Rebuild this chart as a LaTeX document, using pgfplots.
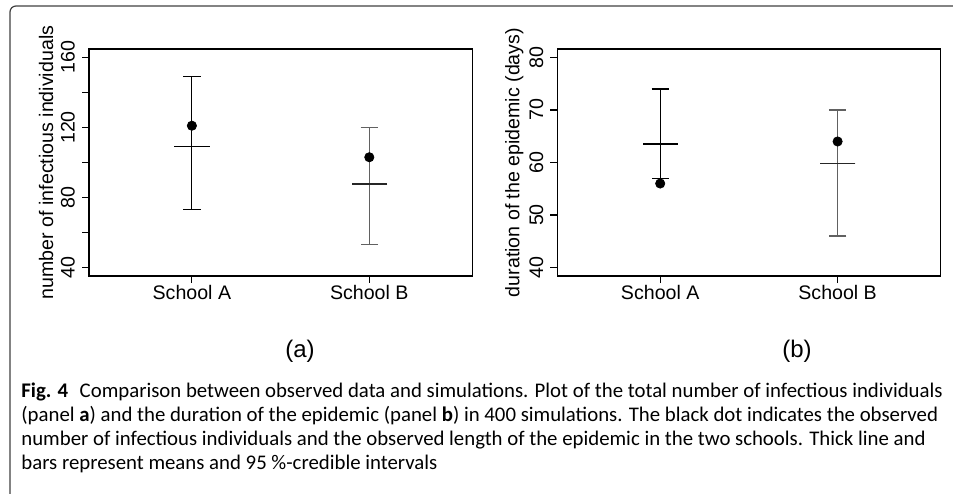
\documentclass[border=0pt]{standalone}
\usepackage{fontspec}
\setmainfont{Liberation Sans}
\newfontfamily\capfont{Carlito}
\usepackage{pgfplots}
\pgfplotsset{compat=1.18}
\pgfplotsset{
 panel/.style={scale only axis, width=191.6pt, height=113.5pt, anchor=south west,
  xmin=0.42, xmax=2.58, xtick={1,2}, xticklabels={School A, School B},
  tick align=outside, major tick length=3.5pt, minor tick length=3.5pt,
  xtick pos=bottom, ytick pos=left,
  tick style={black, line width=0.6pt},
  axis line style={line width=0.6pt},
  font=\fontsize{9.8}{11}\selectfont,
  yticklabel style={rotate=90, anchor=south},
  xticklabel style={yshift=2.2pt},
  /pgf/number format/assume math mode=true,
  ylabel style={at={(axis description cs:-0.112,0.5)}, anchor=center},
  clip=false},
 ebar/.style={only marks, mark=-, mark size=8.85pt, #1, mark options={line width=0.7pt, #1},
  error bars/.cd, y dir=both, y explicit, error mark=|,
  error bar style={line width=0.6pt, #1},
  error mark options={mark size=4.35pt, line width=0.6pt, #1}},
 meanline/.style={only marks, mark=-, mark size=8.85pt, #1, mark options={line width=0.7pt, #1}},
 obsdot/.style={only marks, mark=*, mark size=2.3pt, black}
}
\begin{document}
\begin{tikzpicture}
\useasboundingbox (0,0) rectangle (476.5pt,246.5pt);
\begin{scope}
\clip (0,0) rectangle (476.5pt,246.5pt);
\draw[black!75, line width=0.6pt, rounded corners=3pt] (5pt,-20pt) rectangle (500pt,243.5pt);
\end{scope}

% Panel (a)
\begin{axis}[panel, at={(44.5pt,108.5pt)},
  ymin=35.2, ymax=164.8, ytick={40,80,120,160}, minor ytick={60,100,140},
  ylabel={number of infectious individuals}]
\addplot[ebar=black] coordinates {(1,109.3) += (0,39.7) -= (0,36.3)};
\addplot[ebar=black!62] coordinates {(2,87.8) += (0,32.2) -= (0,34.8)};
\addplot[meanline=black!85] coordinates {(2,87.8)};
\addplot[obsdot] coordinates {(1,121) (2,103)};
\end{axis}

% Panel (b)
\begin{axis}[panel, at={(278.65pt,108.5pt)},
  ymin=38.4, ymax=81.6, ytick={40,50,60,70,80},
  ylabel={duration of the epidemic (days)}]
\addplot[ebar=black] coordinates {(1,63.5) += (0,10.5) -= (0,6.5)};
\addplot[ebar=black!62] coordinates {(2,59.8) += (0,10.2) -= (0,13.8)};
\addplot[meanline=black!85] coordinates {(2,59.8)};
\addplot[obsdot] coordinates {(1,56) (2,64)};
\end{axis}

\node[font=\fontsize{12}{14}\selectfont] at (150pt,71pt) {(a)};
\node[font=\fontsize{12}{14}\selectfont] at (398.5pt,71pt) {(b)};

\begin{scope}[every node/.style={anchor=base west, inner sep=0pt, font=\capfont\fontsize{10.4}{12}\selectfont}]
\node at (10.5pt,48pt) {\textbf{Fig. 4}\hspace{0.55em}Comparison between observed data and simulations. Plot of the total number of infectious individuals};
\node at (10.5pt,36pt) {(panel \textbf{a}) and the duration of the epidemic (panel \textbf{b}) in 400 simulations. The black dot indicates the observed};
\node at (10.5pt,24pt) {number of infectious individuals and the observed length of the epidemic in the two schools. Thick line and};
\node at (10.5pt,12pt) {bars represent means and 95 \%-credible intervals};
\end{scope}
\end{tikzpicture}
\end{document}
